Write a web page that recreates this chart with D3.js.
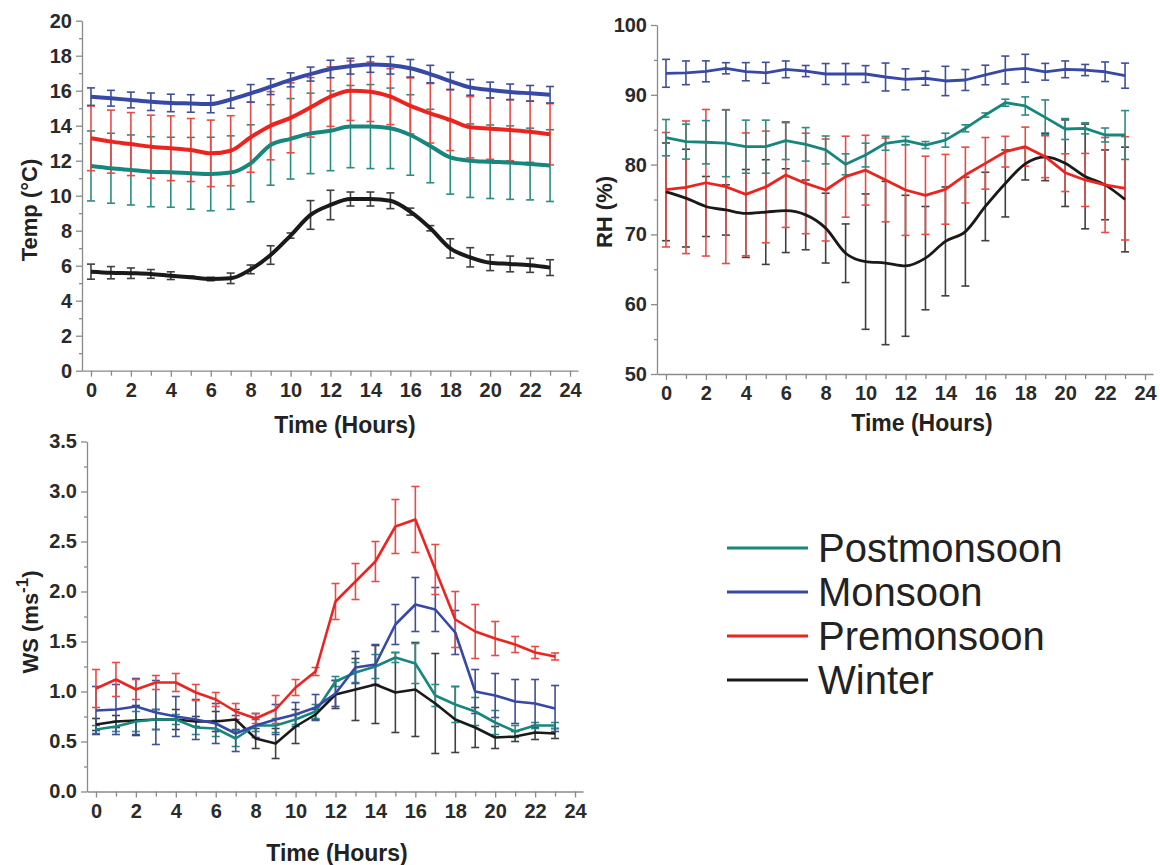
<!DOCTYPE html>
<html>
<head>
<meta charset="utf-8">
<script src="https://cdn.jsdelivr.net/npm/d3@7"></script>
<style>
  body { margin: 0; background: #fff; }
  svg { font-family: "Liberation Sans", Arial, sans-serif; }
  .tick text { font-weight: bold; fill: #2a2a2a; }
</style>
</head>
<body>
<div id="chart"></div>
<script>
// hours of the day
const hours = [0,1,2,3,4,5,6,7,8,9,10,11,12,13,14,15,16,17,18,19,20,21,22,23];
const seasons = ["Postmonsoon", "Monsoon", "Premonsoon", "Winter"];

// Temp (°C)
const tempPost = [11.7,11.57,11.47,11.37,11.34,11.28,11.24,11.32,11.85,12.9,13.25,13.56,13.71,13.95,13.95,13.85,13.47,12.84,12.19,12.0,11.94,11.89,11.81,11.72];
const tempPostErr = [2.0,2.0,2.0,2.0,2.0,2.05,2.1,2.1,2.2,2.3,2.3,2.3,2.28,2.35,2.4,2.3,2.3,2.1,2.1,2.1,2.1,2.1,2.05,2.05];
const tempMon = [15.66,15.57,15.47,15.37,15.3,15.27,15.24,15.5,15.85,16.23,16.62,16.95,17.24,17.4,17.5,17.45,17.28,16.95,16.55,16.19,16.04,15.93,15.85,15.77];
const tempMonErr = [0.5,0.45,0.45,0.5,0.5,0.5,0.5,0.5,0.5,0.45,0.4,0.4,0.5,0.45,0.45,0.5,0.5,0.5,0.5,0.45,0.45,0.45,0.45,0.47];
const tempPre = [13.28,13.09,12.95,12.8,12.71,12.61,12.42,12.57,13.34,14.0,14.45,15.05,15.66,16.0,15.94,15.66,15.13,14.71,14.33,13.91,13.83,13.75,13.66,13.51];
const tempPreErr = [1.85,1.8,1.8,1.8,1.85,1.8,1.9,2.0,2.0,1.95,2.0,1.7,1.7,1.7,1.7,1.6,1.6,1.7,1.75,1.75,1.75,1.75,1.75,1.75];
const tempWin = [5.66,5.6,5.57,5.53,5.43,5.34,5.24,5.28,5.79,6.61,7.72,8.9,9.47,9.81,9.81,9.71,9.09,8.14,6.99,6.48,6.17,6.1,6.02,5.89];
const tempWinErr = [0.43,0.35,0.3,0.25,0.22,0.06,0.1,0.3,0.25,0.53,0.15,0.82,0.84,0.4,0.4,0.45,0.2,0.15,0.55,0.55,0.45,0.45,0.4,0.45];

// RH (%)
const rhPost = [83.86,83.29,83.2,83.07,82.57,82.57,83.43,82.9,82.1,80.04,81.37,83.05,83.43,82.8,83.5,85.2,87.1,88.87,88.4,86.77,85.1,85.2,84.24,84.24];
const rhPostErr = [2.6,2.5,3.1,4.8,3.8,3.8,2.7,2.4,2.0,1.5,1.7,1.0,0.6,0.5,1.0,0.5,0.3,0.5,1.3,2.5,1.5,0.8,1.0,3.5];
const rhMon = [93.08,93.15,93.36,93.8,93.31,93.15,93.65,93.4,92.98,92.98,92.98,92.55,92.22,92.37,91.98,92.12,92.84,93.55,93.8,93.3,93.65,93.55,93.3,92.74];
const rhMonErr = [2.0,1.7,1.5,0.8,1.3,1.5,1.2,0.8,1.5,1.5,1.2,2.0,1.5,1.0,2.1,1.5,1.4,2.0,2.0,1.2,1.2,0.8,1.4,1.8];
const rhPre = [76.4,76.75,77.4,76.83,75.74,76.8,78.5,77.3,76.36,78.27,79.2,77.8,76.36,75.6,76.46,78.5,80.18,81.85,82.57,81.13,78.84,77.8,77.08,76.6];
const rhPreErr = [8.2,9.5,10.5,11,8.8,8,7.5,7.2,7.3,5.8,5,6,6.5,5.6,5,4,3.7,2.2,2.8,3,2.7,3.8,6.8,7.4];
const rhWin = [76.1,75.2,74.0,73.5,73.0,73.2,73.4,72.8,70.9,67.3,66.1,65.9,65.5,66.6,69.0,70.4,74.0,77.3,80.1,81.1,80.2,78.3,77.1,75.0];
const rhWinErr = [7,7,4.3,3.6,6.3,7.5,6,5,5,4.2,9.7,11.7,10.1,7.4,7.8,7.8,4.9,4.8,2.3,3.4,6.2,7.5,5,7.5];

// WS (m s-1)
const wsPost = [0.62,0.65,0.70,0.72,0.72,0.64,0.63,0.53,0.66,0.66,0.72,0.8,1.1,1.19,1.25,1.34,1.28,0.96,0.87,0.80,0.69,0.6,0.66,0.66];
const wsPostErr = [0.04,0.05,0.1,0.1,0.05,0.07,0.08,0.08,0.06,0.07,0.05,0.07,0.05,0.1,0.12,0.05,0.2,0.11,0.18,0.14,0.12,0.06,0.03,0.03];
const wsMon = [0.81,0.82,0.85,0.79,0.75,0.72,0.68,0.58,0.66,0.72,0.77,0.84,0.98,1.24,1.27,1.67,1.87,1.82,1.59,1.0,0.96,0.9,0.88,0.83];
const wsMonErr = [0.24,0.25,0.28,0.32,0.2,0.2,0.2,0.18,0.12,0.15,0.12,0.13,0.13,0.16,0.2,0.2,0.27,0.22,0.22,0.22,0.22,0.22,0.24,0.23];
const wsPre = [1.03,1.12,1.02,1.09,1.09,0.99,0.92,0.80,0.73,0.82,1.04,1.2,1.9,2.1,2.3,2.65,2.72,2.22,1.72,1.6,1.53,1.47,1.39,1.35];
const wsPreErr = [0.19,0.17,0.1,0.07,0.09,0.08,0.07,0.08,0.05,0.14,0.08,0.04,0.18,0.18,0.2,0.27,0.33,0.25,0.28,0.27,0.17,0.08,0.06,0.035];
const wsWin = [0.67,0.7,0.71,0.72,0.72,0.7,0.7,0.72,0.53,0.48,0.65,0.77,0.97,1.02,1.07,0.99,1.02,0.88,0.72,0.64,0.54,0.55,0.59,0.58];
const wsWinErr = [0.06,0.06,0.15,0.1,0.1,0.05,0.1,0.1,0.1,0.15,0.17,0.05,0.14,0.31,0.39,0.4,0.47,0.5,0.33,0.2,0.11,0.05,0.07,0.05];

const lineColor = { Postmonsoon: "#17877d", Monsoon: "#3848a6", Premonsoon: "#ec2420", Winter: "#1a1a1a" };
const barColor = { Postmonsoon: "#2b8c84", Monsoon: "#404f98", Premonsoon: "#ea4a44", Winter: "#404040" };
const axisGrey = "#8a8a8a";

const svg = d3.select("#chart").append("svg")
  .attr("width", 1160)
  .attr("height", 865);

function drawPanel(cfg) {
  const x = d3.scaleLinear().domain([-0.45, 24.4]).range(cfg.xRange);
  const y = d3.scaleLinear().domain(cfg.yDomain).range(cfg.yRange);
  const g = svg.append("g");

  // y axis, major + minor ticks
  g.append("g")
    .attr("transform", `translate(${cfg.xRange[0]},0)`)
    .call(d3.axisLeft(y).tickValues(cfg.yMajor).tickSize(6).tickSizeOuter(0).tickPadding(4).tickFormat(cfg.yFormat));
  g.append("g")
    .attr("transform", `translate(${cfg.xRange[0]},0)`)
    .call(d3.axisLeft(y).tickValues(cfg.yMinor).tickSize(3).tickFormat(""))
    .select(".domain").remove();

  // x axis
  g.append("g")
    .attr("transform", `translate(0,${cfg.yRange[0]})`)
    .call(d3.axisBottom(x).tickValues([0,2,4,6,8,10,12,14,16,18,20,22,24]).tickSize(6).tickSizeOuter(0).tickPadding(6));
  g.append("g")
    .attr("transform", `translate(0,${cfg.yRange[0]})`)
    .call(d3.axisBottom(x).tickValues([1,3,5,7,9,11,13,15,17,19,21,23]).tickSize(5).tickFormat(""))
    .select(".domain").remove();

  g.selectAll(".domain, .tick line").attr("stroke", axisGrey).attr("stroke-width", 1.3);
  g.selectAll(".tick text").style("font-size", "20px");

  // error bars
  cfg.series.forEach(s => {
    const eb = g.append("g").attr("stroke", barColor[s.name]).attr("stroke-width", 1.6).attr("fill", "none");
    hours.forEach((h, i) => {
      const cx = x(h), y1 = y(s.mean[i] + s.err[i]), y2 = y(s.mean[i] - s.err[i]);
      eb.append("line").attr("x1", cx).attr("x2", cx).attr("y1", y1).attr("y2", y2);
      eb.append("line").attr("x1", cx - 4).attr("x2", cx + 4).attr("y1", y1).attr("y2", y1);
      eb.append("line").attr("x1", cx - 4).attr("x2", cx + 4).attr("y1", y2).attr("y2", y2);
    });
  });

  // lines
  cfg.series.forEach(s => {
    const line = d3.line()
      .x((d, i) => x(hours[i]))
      .y(d => y(d))
      .curve(s.smooth ? d3.curveMonotoneX : d3.curveLinear);
    g.append("path")
      .datum(s.mean)
      .attr("fill", "none")
      .attr("stroke", lineColor[s.name])
      .attr("stroke-width", cfg.lineWidth)
      .attr("stroke-linejoin", "round")
      .attr("d", line);
  });

  // axis titles
  g.append("text")
    .attr("x", cfg.xTitle[0]).attr("y", cfg.xTitle[1])
    .attr("text-anchor", "middle")
    .style("font-size", "23px").style("font-weight", "bold").attr("fill", "#222")
    .text("Time (Hours)");
  const yt = g.append("text")
    .attr("transform", `translate(${cfg.yTitle[0]},${cfg.yTitle[1]}) rotate(-90)`)
    .attr("text-anchor", "middle")
    .style("font-size", "22px").style("font-weight", "bold").attr("fill", "#222");
  cfg.yLabel(yt);
}

drawPanel({
  xRange: [82, 578], yDomain: [0, 20], yRange: [370.7, 20.7],
  yMajor: [0,2,4,6,8,10,12,14,16,18,20], yMinor: [1,3,5,7,9,11,13,15,17,19],
  yFormat: d3.format("d"), lineWidth: 4,
  xTitle: [345, 433], yTitle: [37, 210],
  yLabel: t => t.text("Temp (°C)"),
  series: [
    { name: "Winter", mean: tempWin, err: tempWinErr, smooth: true },
    { name: "Postmonsoon", mean: tempPost, err: tempPostErr, smooth: true },
    { name: "Premonsoon", mean: tempPre, err: tempPreErr, smooth: true },
    { name: "Monsoon", mean: tempMon, err: tempMonErr, smooth: true }
  ]
});

drawPanel({
  xRange: [657, 1153], yDomain: [50, 100], yRange: [374, 25],
  yMajor: [50,60,70,80,90,100], yMinor: [55,65,75,85,95],
  yFormat: d3.format("d"), lineWidth: 2.8,
  xTitle: [922, 431], yTitle: [612, 212],
  yLabel: t => t.text("RH (%)"),
  series: [
    { name: "Winter", mean: rhWin, err: rhWinErr, smooth: true },
    { name: "Premonsoon", mean: rhPre, err: rhPreErr, smooth: false },
    { name: "Postmonsoon", mean: rhPost, err: rhPostErr, smooth: false },
    { name: "Monsoon", mean: rhMon, err: rhMonErr, smooth: false }
  ]
});

drawPanel({
  xRange: [87, 583], yDomain: [0, 3.5], yRange: [791.5, 441.5],
  yMajor: [0,0.5,1,1.5,2,2.5,3,3.5], yMinor: [0.25,0.75,1.25,1.75,2.25,2.75,3.25],
  yFormat: d3.format(".1f"), lineWidth: 2.6,
  xTitle: [337, 861], yTitle: [38, 622],
  yLabel: t => {
    t.append("tspan").text("WS (ms");
    t.append("tspan").attr("dy", -10).style("font-size", "17px").text("-1");
    t.append("tspan").attr("dy", 10).text(")");
  },
  series: [
    { name: "Winter", mean: wsWin, err: wsWinErr, smooth: false },
    { name: "Postmonsoon", mean: wsPost, err: wsPostErr, smooth: false },
    { name: "Monsoon", mean: wsMon, err: wsMonErr, smooth: false },
    { name: "Premonsoon", mean: wsPre, err: wsPreErr, smooth: false }
  ]
});

// legend
const legend = svg.append("g").attr("transform", "translate(727,548)");
seasons.forEach((name, i) => {
  const row = legend.append("g").attr("transform", `translate(0,${i * 44})`);
  row.append("line").attr("x1", 0).attr("x2", 81).attr("y1", 0).attr("y2", 0)
    .attr("stroke", lineColor[name]).attr("stroke-width", 3);
  row.append("text").attr("x", 91).attr("y", 14)
    .style("font-size", "40px").attr("fill", "#222")
    .text(name);
});
</script>
</body>
</html>
